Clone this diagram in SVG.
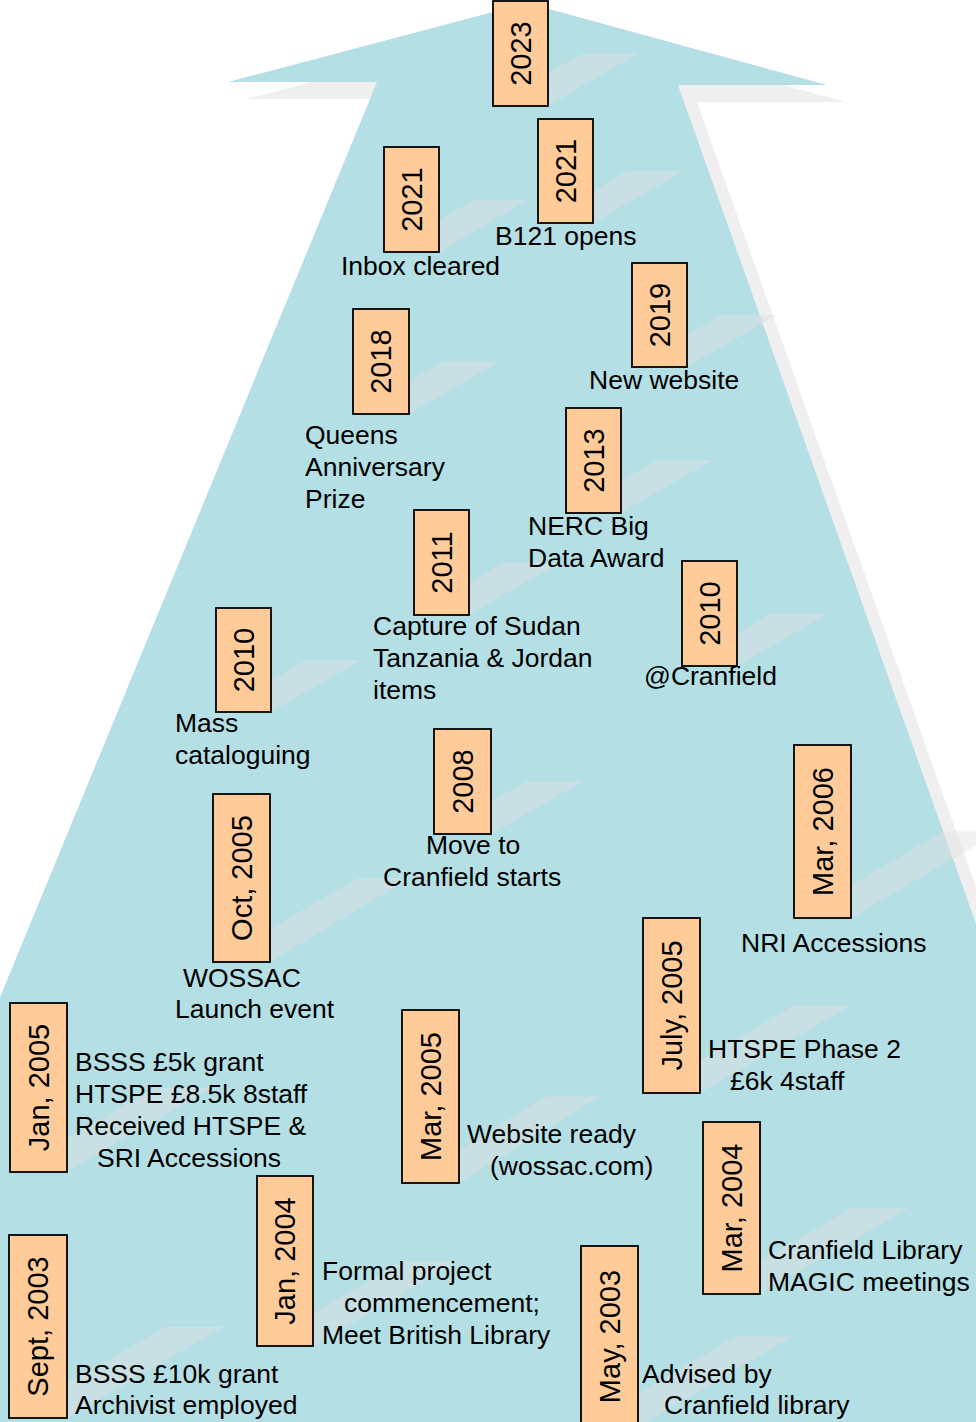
<svg xmlns="http://www.w3.org/2000/svg" width="976" height="1422" viewBox="0 0 976 1422">
<style>
.box{fill:#ffcc99;stroke:#000;stroke-width:1.8}
.sh{fill:#e0e0e0;fill-opacity:0.45}
.d{font-family:"Liberation Sans",Arial,sans-serif;font-size:29px;fill:#000;text-anchor:middle}
.t{font-family:"Liberation Sans",Arial,sans-serif;font-size:26.5px;fill:#000}
</style>
<rect width="976" height="1422" fill="#fff"/>
<g id="arrow">
<polygon points="546,20 846,102 697,102 1172,1439 -156,1439 396,99 247,99" fill="#efefef"/>
<polygon points="527,3 827,85 678,85 1153,1422 -175,1422 377,82 228,82" fill="#b4dfe5"/>
</g>
<g id="shadows">
<polygon class="sh" points="548,73 583,53.5 638,53.5 548,106"/>
<polygon class="sh" points="439,220 474,199.5 529,199.5 439,252"/>
<polygon class="sh" points="593,191 627,171 684,171 593,223"/>
<polygon class="sh" points="687,335 721,315 777,315 687,367"/>
<polygon class="sh" points="409,381.5 444,361.5 500,361.5 409,414"/>
<polygon class="sh" points="621,481 656,460.5 712,460.5 621,513"/>
<polygon class="sh" points="469,583 504,562.5 560,562.5 469,615"/>
<polygon class="sh" points="737,634 772,613.5 828,613.5 737,666"/>
<polygon class="sh" points="271,680 306,660 362,660 271,712"/>
<polygon class="sh" points="491,801 526,781.5 583,781.5 491,834"/>
<polygon class="sh" points="270,929 358,878 410,878 270,962"/>
<polygon class="sh" points="851,885 943,831.5 1000,831.5 851,918"/>
<polygon class="sh" points="700,1060 794,1005.5 851,1005.5 700,1093"/>
<polygon class="sh" points="459,1150 545,1096.5 600,1096.5 459,1183"/>
<polygon class="sh" points="67,1139 155,1087.5 212,1087.5 67,1172"/>
<polygon class="sh" points="313,1313.5 403,1261 459,1261 313,1346"/>
<polygon class="sh" points="67,1384 166,1326.5 224,1326.5 67,1418"/>
<polygon class="sh" points="760,1261 852,1208 909,1208 760,1294"/>
<polygon class="sh" points="638,1394 735,1336.5 793,1336.5 638,1427"/>
</g>
<g id="n2023"><rect class="box" x="493" y="1" width="55" height="105"/><text class="d" transform="rotate(-90 520.5 53.5)" x="520.5" y="63.5">2023</text></g>
<g id="n2021a"><rect class="box" x="384" y="147" width="55" height="105"/><text class="d" transform="rotate(-90 411.5 199.5)" x="411.5" y="209.5">2021</text>
<text class="t" x="341" y="275">Inbox cleared</text></g>
<g id="n2021b"><rect class="box" x="538" y="119" width="55" height="104"/><text class="d" transform="rotate(-90 565.5 171)" x="565.5" y="181">2021</text>
<text class="t" x="495" y="245">B121 opens</text></g>
<g id="n2019"><rect class="box" x="632" y="263" width="55" height="104"/><text class="d" transform="rotate(-90 659.5 315)" x="659.5" y="325">2019</text>
<text class="t" x="589" y="389">New website</text></g>
<g id="n2018"><rect class="box" x="353" y="309" width="56" height="105"/><text class="d" transform="rotate(-90 381 361.5)" x="381" y="371.5">2018</text>
<text class="t" x="305" y="444">Queens</text><text class="t" x="305" y="476">Anniversary</text><text class="t" x="305" y="508">Prize</text></g>
<g id="n2013"><rect class="box" x="566" y="408" width="55" height="105"/><text class="d" transform="rotate(-90 593.5 460.5)" x="593.5" y="470.5">2013</text>
<text class="t" x="528" y="535">NERC Big</text><text class="t" x="528" y="567">Data Award</text></g>
<g id="n2011"><rect class="box" x="414" y="510" width="55" height="105"/><text class="d" transform="rotate(-90 441.5 562.5)" x="441.5" y="572.5">2011</text>
<text class="t" x="373" y="635">Capture of Sudan</text><text class="t" x="373" y="667">Tanzania &amp; Jordan</text><text class="t" x="373" y="699">items</text></g>
<g id="n2010c"><rect class="box" x="682" y="561" width="55" height="105"/><text class="d" transform="rotate(-90 709.5 613.5)" x="709.5" y="623.5">2010</text>
<text class="t" x="644" y="685">@Cranfield</text></g>
<g id="n2010m"><rect class="box" x="216" y="608" width="55" height="104"/><text class="d" transform="rotate(-90 243.5 660)" x="243.5" y="670">2010</text>
<text class="t" x="175" y="732">Mass</text><text class="t" x="175" y="764">cataloguing</text></g>
<g id="n2008"><rect class="box" x="434" y="729" width="57" height="105"/><text class="d" transform="rotate(-90 462.5 781.5)" x="462.5" y="791.5">2008</text>
<text class="t" x="426" y="854">Move to</text><text class="t" x="383" y="886">Cranfield starts</text></g>
<g id="oct2005"><rect class="box" x="213" y="794" width="57" height="168"/><text class="d" transform="rotate(-90 241.5 878)" x="241.5" y="888">Oct, 2005</text>
<text class="t" x="183" y="987">WOSSAC</text><text class="t" x="175" y="1018">Launch event</text></g>
<g id="mar2006"><rect class="box" x="794" y="745" width="57" height="173"/><text class="d" transform="rotate(-90 822.5 831.5)" x="822.5" y="841.5">Mar, 2006</text>
<text class="t" x="741" y="952">NRI Accessions</text></g>
<g id="jul2005"><rect class="box" x="643" y="918" width="57" height="175"/><text class="d" transform="rotate(-90 671.5 1005.5)" x="671.5" y="1015.5">July, 2005</text>
<text class="t" x="708" y="1058">HTSPE Phase 2</text><text class="t" x="730" y="1090">£6k 4staff</text></g>
<g id="mar2005"><rect class="box" x="402" y="1010" width="57" height="173"/><text class="d" transform="rotate(-90 430.5 1096.5)" x="430.5" y="1106.5">Mar, 2005</text>
<text class="t" x="467" y="1143">Website ready</text><text class="t" x="490" y="1175">(wossac.com)</text></g>
<g id="jan2005"><rect class="box" x="10" y="1003" width="57" height="169"/><text class="d" transform="rotate(-90 38.5 1087.5)" x="38.5" y="1097.5">Jan, 2005</text>
<text class="t" x="75" y="1071">BSSS £5k grant</text><text class="t" x="75" y="1103">HTSPE £8.5k 8staff</text><text class="t" x="75" y="1135">Received HTSPE &amp;</text><text class="t" x="97" y="1167">SRI Accessions</text></g>
<g id="jan2004"><rect class="box" x="257" y="1176" width="56" height="170"/><text class="d" transform="rotate(-90 285 1261)" x="285" y="1271">Jan, 2004</text>
<text class="t" x="322" y="1280">Formal project</text><text class="t" x="344" y="1312">commencement;</text><text class="t" x="322" y="1344">Meet British Library</text></g>
<g id="sep2003"><rect class="box" x="9" y="1235" width="58" height="183"/><text class="d" transform="rotate(-90 38 1326.5)" x="38" y="1336.5">Sept, 2003</text>
<text class="t" x="75" y="1383">BSSS £10k grant</text><text class="t" x="75" y="1414">Archivist employed</text></g>
<g id="mar2004"><rect class="box" x="703" y="1122" width="57" height="172"/><text class="d" transform="rotate(-90 731.5 1208)" x="731.5" y="1218">Mar, 2004</text>
<text class="t" x="768" y="1259">Cranfield Library</text><text class="t" x="768" y="1291">MAGIC meetings</text></g>
<g id="may2003"><rect class="box" x="581" y="1246" width="57" height="181"/><text class="d" transform="rotate(-90 609.5 1336.5)" x="609.5" y="1346.5">May, 2003</text>
<text class="t" x="642" y="1383">Advised by</text><text class="t" x="664" y="1414">Cranfield library</text></g>
<g id="connectors"></g>
</svg>
